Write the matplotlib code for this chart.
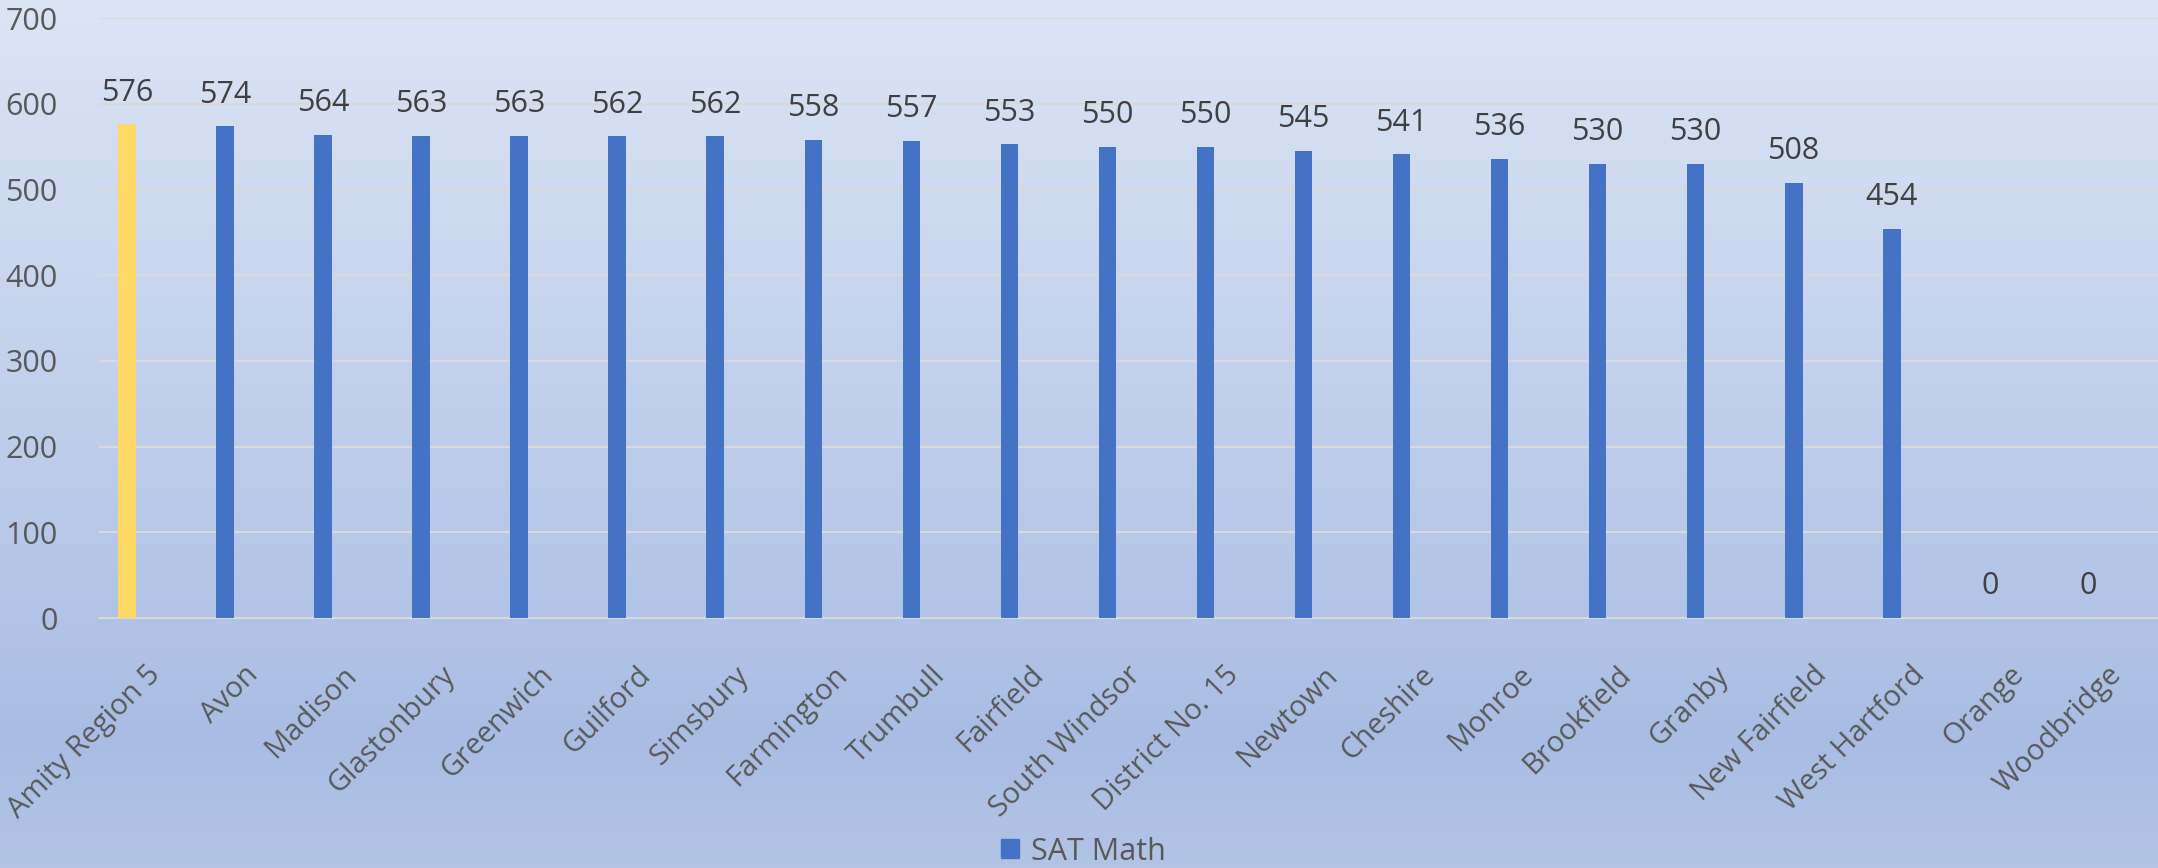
import numpy as np
import matplotlib.pyplot as plt
from matplotlib.colors import LinearSegmentedColormap
from matplotlib.patches import Patch
from matplotlib.transforms import ScaledTranslation

# chart data
districts = ["Amity Region 5", "Avon", "Madison", "Glastonbury", "Greenwich",
             "Guilford", "Simsbury", "Farmington", "Trumbull", "Fairfield",
             "South Windsor", "District No. 15", "Newtown", "Cheshire", "Monroe",
             "Brookfield", "Granby", "New Fairfield", "West Hartford", "Orange",
             "Woodbridge"]
sat_math = [576, 574, 564, 563, 563, 562, 562, 558, 557, 553, 550, 550, 545,
            541, 536, 530, 530, 508, 454, 0, 0]
y_ticks = [0, 100, 200, 300, 400, 500, 600, 700]
series_name = "SAT Math"

plt.rcParams['font.family'] = ['Open Sans', 'DejaVu Sans']

fig = plt.figure(figsize=(21.58, 8.68), dpi=100)

# gradient background over the whole figure
bg = fig.add_axes([0, 0, 1, 1], zorder=-10)
cmap = LinearSegmentedColormap.from_list(
    "bg", [(0.0, "#dce5f4"), (0.85, "#a9bde4"), (1.0, "#b1c4e6")])
bg.imshow(np.linspace(0, 1, 256).reshape(-1, 1), aspect='auto', cmap=cmap,
          extent=[0, 1, 0, 1], origin='upper')
bg.axis('off')

ax = fig.add_axes([0.0459, 0.288, 0.954, 0.691])
ax.patch.set_alpha(0)

x = np.arange(len(districts))
colors = ["#ffd966"] + ["#4472c4"] * (len(districts) - 1)
bars = ax.bar(x - 0.214, sat_math, width=0.18, color=colors, zorder=3)

for b, v in zip(bars, sat_math):
    ax.annotate(str(v), (b.get_x() + b.get_width() / 2, v),
                xytext=(0, 12), textcoords='offset points',
                ha='center', va='bottom', fontsize=22, color="#404040")

ax.set_xlim(-0.5, len(districts) - 0.5)
ax.set_ylim(0, 700)
ax.set_yticks(y_ticks)
ax.yaxis.grid(True, color="#d9d9d9", linewidth=1.5, zorder=0)
ax.tick_params(axis='y', length=0, pad=30, labelsize=22, labelcolor="#595959")
ax.tick_params(axis='x', length=0, pad=38, labelsize=21, labelcolor="#595959")

ax.set_xticks(x)
ax.set_xticklabels(districts, rotation=45, ha='right', va='center',
                   rotation_mode='anchor')
for lbl in ax.get_xticklabels():
    lbl.set_transform(lbl.get_transform() +
                      ScaledTranslation(6 / 72, 0, fig.dpi_scale_trans))

for side in ['top', 'right', 'left']:
    ax.spines[side].set_visible(False)
ax.spines['bottom'].set_color("#d9d9d9")
ax.spines['bottom'].set_linewidth(1.5)

fig.legend(handles=[Patch(color="#4472c4", label=series_name)],
           loc='lower center', bbox_to_anchor=(0.502, -0.03), frameon=False,
           fontsize=22, labelcolor="#595959", handlelength=0.6,
           handleheight=0.6, handletextpad=0.4)

fig.savefig("out.png", dpi=100)
